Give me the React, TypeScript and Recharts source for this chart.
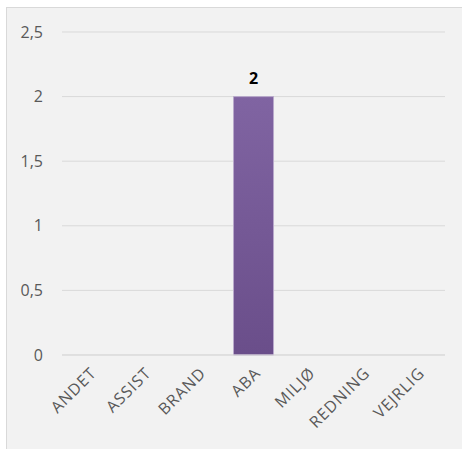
import { BarChart, Bar, XAxis, YAxis, CartesianGrid, LabelList } from 'recharts';

const categories = ['ANDET', 'ASSIST', 'BRAND', 'ABA', 'MILJØ', 'REDNING', 'VEJRLIG'];
const counts = [0, 0, 0, 2, 0, 0, 0];
const yTicks = [0, 0.5, 1, 1.5, 2, 2.5];

const data = categories.map((name, i) => ({ name, value: counts[i] }));

const fmt = (v: number) => String(v).replace('.', ',');

export default function App() {
  return (
    <div
      style={{
        position: 'fixed',
        left: 6,
        top: 7,
        width: 456,
        height: 442,
        borderTop: '1px solid #d9d9d9',
        borderLeft: '1px solid #d9d9d9',
        background: '#f2f2f2',
        fontFamily: '"Open Sans", sans-serif',
        overflow: 'hidden',
      }}
    >
      <BarChart
        width={456}
        height={441}
        data={data}
        margin={{ top: 24, right: 18, bottom: 0, left: 0 }}
        barCategoryGap="13.5%"
      >
        <defs>
          <linearGradient id="barFill" x1="0" y1="0" x2="0" y2="1">
            <stop offset="0%" stopColor="#8064a2" />
            <stop offset="100%" stopColor="#6a4e8a" />
          </linearGradient>
        </defs>
        <CartesianGrid vertical={false} stroke="#d9d9d9" strokeWidth={1} />
        <XAxis
          dataKey="name"
          axisLine={{ stroke: '#d9d9d9' }}
          tickLine={false}
          interval={0}
          height={94}
          angle={-45}
          textAnchor="end"
          tick={{ fill: '#595959', fontSize: 16, letterSpacing: 1 }}
          tickSize={0}
          tickMargin={11}
        />
        <YAxis
          domain={[0, 2.5]}
          ticks={yTicks}
          tickFormatter={fmt}
          axisLine={false}
          tickLine={false}
          width={55}
          tickSize={0}
          tickMargin={19}
          tick={{ fill: '#595959', fontSize: 16 }}
        />
        <Bar
          dataKey="value"
          fill="url(#barFill)"
          stroke="#b9a9cc"
          strokeWidth={1}
          isAnimationActive={false}
        >
          <LabelList
            dataKey="value"
            position="top"
            offset={13}
            formatter={(v: any) => (v ? v : '')}
            style={{ fill: '#000000', fontWeight: 700, fontSize: 16 }}
          />
        </Bar>
      </BarChart>
    </div>
  );
}
